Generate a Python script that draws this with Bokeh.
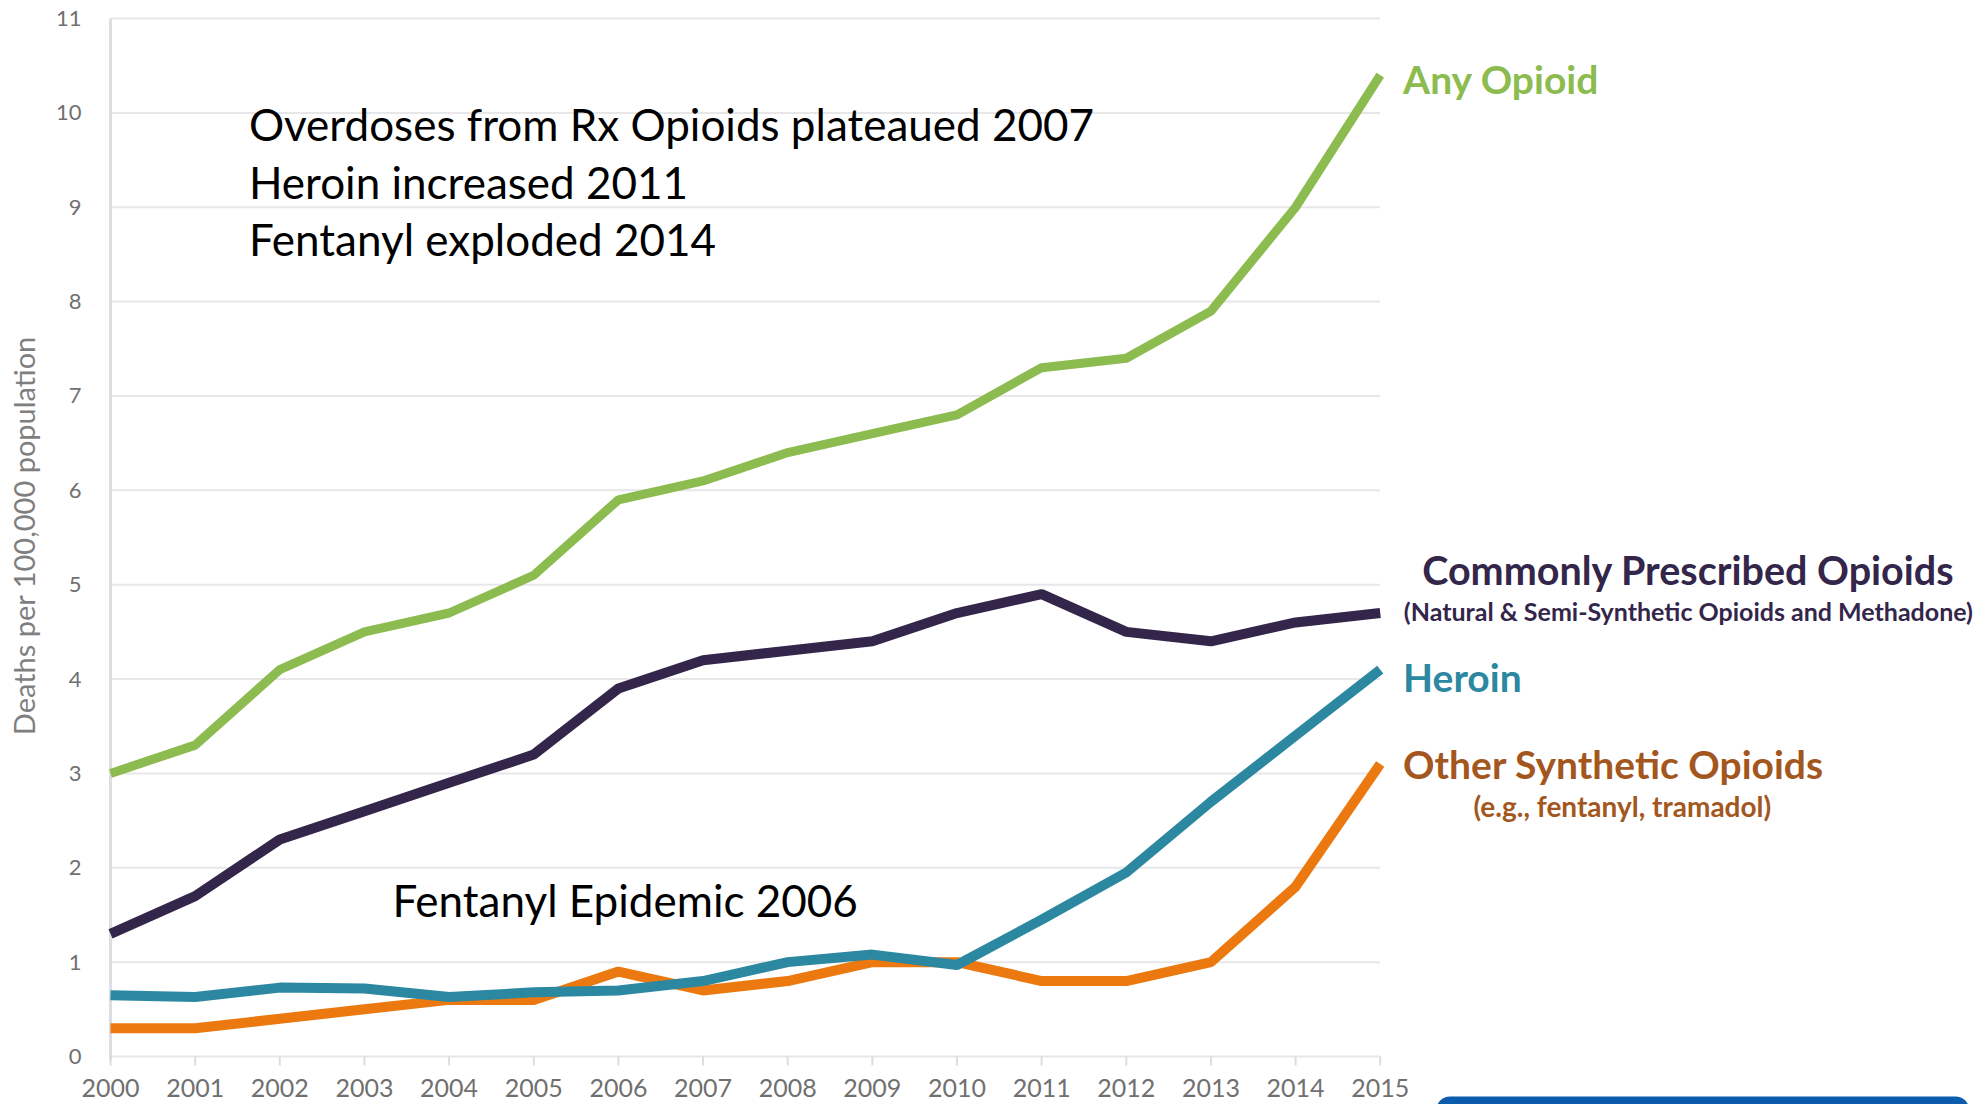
import math
from bokeh.plotting import figure
from bokeh.models import Range1d, Label, BoxAnnotation
from bokeh.core.properties import value
from bokeh.embed import file_html
from bokeh.resources import INLINE

years = list(range(2000, 2016))
year_labels = [str(y) for y in years]
any_opioid = [3.0, 3.3, 4.1, 4.5, 4.7, 5.1, 5.9, 6.1, 6.4, 6.6, 6.8, 7.3, 7.4, 7.9, 9.0, 10.4]
prescribed = [1.3, 1.7, 2.3, 2.6, 2.9, 3.2, 3.9, 4.2, 4.3, 4.4, 4.7, 4.9, 4.5, 4.4, 4.6, 4.7]
heroin = [0.65, 0.63, 0.73, 0.72, 0.63, 0.68, 0.70, 0.80, 1.0, 1.08, 0.97, 1.45, 1.95, 2.7, 3.4, 4.1]
synthetic = [0.3, 0.3, 0.4, 0.5, 0.6, 0.6, 0.9, 0.7, 0.8, 1.0, 1.0, 0.8, 0.8, 1.0, 1.8, 3.1]
y_ticks = list(range(0, 12))
y_tick_labels = [str(v) for v in y_ticks]

GREEN = "#8CBB4F"
PURPLE = "#33264A"
TEAL = "#2C88A0"
ORANGE = "#EB790F"
BROWN = "#A3571E"
GRID = "#E7E7EA"
TICK_TXT = "#707070"
FONT = "Lato"

W, H = 1975, 1104
PX_X = 84.65  # pixels per year
PX_Y = 94.36  # pixels per unit
X0 = 2000 - 110 / PX_X
Y0 = -48 / PX_Y

p = figure(width=W, height=H, output_backend="svg", toolbar_location=None,
           x_axis_location=None, y_axis_location=None,
           x_range=Range1d(X0, X0 + W / PX_X), y_range=Range1d(Y0, Y0 + H / PX_Y),
           min_border_left=0, min_border_right=0, min_border_top=0, min_border_bottom=0)
p.outline_line_color = None
p.background_fill_color = "white"
p.border_fill_color = "white"
p.xgrid.grid_line_color = None
p.ygrid.grid_line_color = None

n_y = len(y_ticks)
n_x = len(years)
# horizontal gridlines across the data span
p.segment(x0=[years[0]] * n_y, x1=[years[-1]] * n_y, y0=y_ticks, y1=y_ticks,
          line_color=GRID, line_width=2)
# left axis line
p.segment(x0=[years[0]], x1=[years[0]], y0=[y_ticks[0] - 4 / PX_Y], y1=[y_ticks[-1]],
          line_color="#DEDEE2", line_width=3)
# x ticks and tick labels
p.segment(x0=years, x1=years, y0=[0] * n_x, y1=[-9 / PX_Y] * n_x,
          line_color="#DCDCE0", line_width=2)
p.text(x=years, y=[-31 / PX_Y] * n_x, text=year_labels, text_font=value(FONT),
       text_font_size="25px", text_color=TICK_TXT, text_align="center", text_baseline="middle")
# y tick labels
p.text(x=[years[0] - 29 / PX_X] * n_y, y=y_ticks, text=y_tick_labels, text_font=value(FONT),
       text_font_size="22px", text_color=TICK_TXT, text_align="right", text_baseline="middle")

LW = 10
p.line(years, synthetic, line_color=ORANGE, line_width=LW)
p.line(years, heroin, line_color=TEAL, line_width=LW)
p.line(years, prescribed, line_color=PURPLE, line_width=LW)
p.line(years, any_opioid, line_color=GREEN, line_width=9)

def lab(x, y, text, color, size, bold=False, align="left", angle=0.0):
    p.add_layout(Label(x=x, y=y, text=text, text_color=color, text_font=FONT,
                       text_font_size=size, text_font_style="bold" if bold else "normal",
                       text_align=align, text_baseline="middle", angle=angle))

# y axis title
lab(years[0] - 87 / PX_X, 5.52, "Deaths per 100,000 population", "#7F7F7F", "29px",
    align="center", angle=math.pi / 2)

notes = ["Overdoses from Rx Opioids plateaued 2007", "Heroin increased 2011", "Fentanyl exploded 2014"]
for i, t in enumerate(notes):
    lab(2001.635, 9.88 - 0.61 * i, t, "black", "44px")
lab(2003.33, 1.66, "Fentanyl Epidemic 2006", "black", "44px")

lab(2015.27, 10.36, "Any Opioid", GREEN, "39px", True)
lab(2018.64, 5.16, "Commonly Prescribed Opioids", PURPLE, "39.5px", True, "center")
lab(2018.64, 4.72, "(Natural & Semi-Synthetic Opioids and Methadone)", PURPLE, "25px", True, "center")
lab(2015.27, 4.02, "Heroin", TEAL, "39px", True)
lab(2015.27, 3.10, "Other Synthetic Opioids", BROWN, "39px", True)
lab(2017.86, 2.65, "(e.g., fentanyl, tramadol)", BROWN, "28px", True, "center")

# cropped blue banner at the bottom right corner of the original slide
p.add_layout(BoxAnnotation(left=2015.66, right=2021.96, bottom=-90 / PX_Y, top=-40 / PX_Y,
                           fill_color="#0B5CAD", fill_alpha=1.0, line_color=None,
                           border_radius=14))

open("out.html", "w").write(file_html(p, INLINE))
